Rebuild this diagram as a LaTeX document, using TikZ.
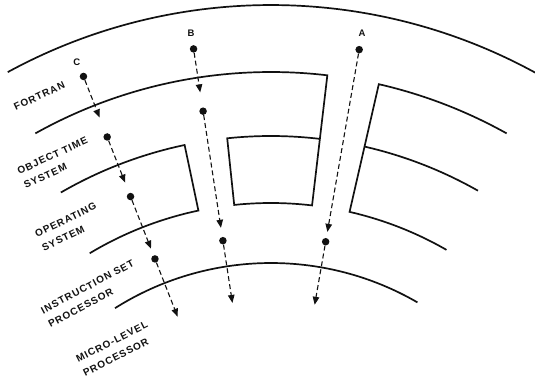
\documentclass[tikz,border=0pt]{standalone}
\usepackage{fontspec}
\setsansfont{Liberation Sans}
\usepackage{tikz}
\usetikzlibrary{arrows.meta,positioning}
\definecolor{ink}{HTML}{111111}
\tikzset{
  ring/.style={draw=ink,line width=1.7pt},
  dot/.style={circle,fill=ink,inner sep=0pt,minimum size=7.5pt},
  flow/.style={-{Triangle[length=8pt,width=6.5pt]},line width=1.1pt,ink,dash pattern=on 5pt off 3pt},
  lvl/.style={font=\sffamily\bfseries\fontsize{10}{15.5}\selectfont\addfontfeature{LetterSpace=10},
              align=left,inner sep=0pt,text=ink},
  tag/.style={font=\sffamily\bfseries\fontsize{9.5}{11}\selectfont,inner sep=0pt,text=ink},
}
\begin{document}
\begin{tikzpicture}[x=1pt,y=1pt]
\useasboundingbox (-271,174) rectangle (264,555);
% rings, centre far below the page
\draw[ring] (118.6:550) arc[start angle=118.6,end angle=61.3,radius=550];
\draw[ring] (119.2:483) arc[start angle=119.2,end angle=83.3,radius=483] -- (83.3:352)
  arc[start angle=83.3,end angle=96,radius=352] -- (96:419) arc[start angle=96,end angle=83.3,radius=419];
\draw[ring] (120.1:419) arc[start angle=120.1,end angle=101.9,radius=419] -- (101.9:352)
  arc[start angle=101.9,end angle=121,radius=352];
\draw[ring] (60.8:483) arc[start angle=60.8,end angle=77.1,radius=483] -- (77.1:352)
  arc[start angle=77.1,end angle=60.1,radius=352];
\draw[ring] (77.1:419) arc[start angle=77.1,end angle=60.4,radius=419];
\draw[ring] (122.3:292) arc[start angle=122.3,end angle=59.9,radius=292];

% level names
\node[lvl,rotate=25] (fortran) at (-231.7,459) {FORTRAN};
\node[lvl,rotate=25] (ots) at (-215.3,392.3) {OBJECT TIME\\SYSTEM};
\node[lvl,rotate=26] (os) at (-201.9,328) {OPERATING\\SYSTEM};
\node[lvl,rotate=28] (isp) at (-179.9,261.3) {INSTRUCTION SET\\PROCESSOR};
\node[lvl,rotate=27] (mlp) at (-155.6,206.3) {MICRO-LEVEL\\PROCESSOR};

% path C
\node[tag] (tagC) at (111.5:530) {C};
\node[dot] (c1) at (111.4:514) {};
\node[dot] (c2) at (111.4:449) {};
\node[dot] (c3) at (111.4:385) {};
\node[dot] (c4) at (111.4:318) {};
\coordinate (c1e) at (111.4:470);
\coordinate (c2e) at (111.4:400);
\coordinate (c3e) at (111.4:329);
\coordinate (c4e) at (111.4:256);
\draw[flow] (c1) -- (c1e);
\draw[flow] (c2) -- (c2e);
\draw[flow] (c3) -- (c3e);
\draw[flow] (c4) -- (c4e);

% path B
\node[tag] (tagB) at (98.7:528) {B};
\node[dot] (b1) at (98.7:512) {};
\node[dot] (b2) at (98.7:449) {};
\node[dot] (b3) at (98.7:318) {};
\coordinate (b1e) at (98.7:468);
\coordinate (b2e) at (98.7:331);
\coordinate (b3e) at (98.7:255);
\draw[flow] (b1) -- (b1e);
\draw[flow] (b2) -- (b2e);
\draw[flow] (b3) -- (b3e);

% path A
\node[tag] (tagA) at (80.1:530) {A};
\node[dot] (a1) at (80.1:513) {};
\node[dot] (a2) at (80.1:318) {};
\coordinate (a1e) at (80.1:328);
\coordinate (a2e) at (80.1:254);
\draw[flow] (a1) -- (a1e);
\draw[flow] (a2) -- (a2e);
\end{tikzpicture}
\end{document}
